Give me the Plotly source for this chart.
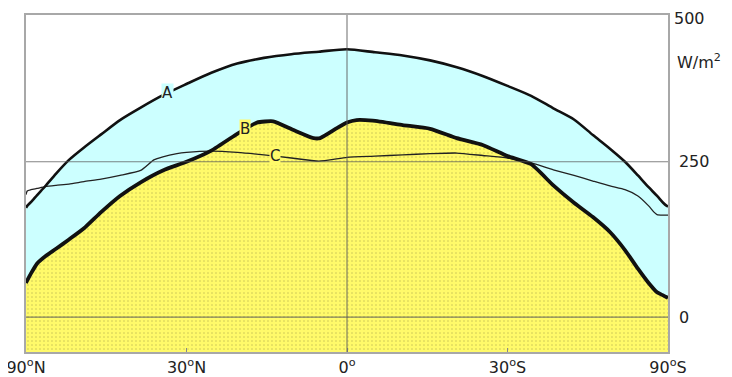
import numpy as np
import plotly.graph_objects as go

# ---------------- data ----------------
# Curve A: incoming solar radiation at top of atmosphere (W/m^2)
A_LAT = [90, 85, 80, 75, 70, 65, 60, 55, 50, 45, 40, 35, 30, 25, 20, 15, 10, 5, 0,
         -5, -10, -15, -20, -25, -30, -35, -40, -45, -50, -55, -60, -65, -70, -75, -80, -85, -90]
A_VAL = [176, 179, 185, 196, 211, 231, 253, 273, 294, 317, 337, 357, 375, 393, 408, 417, 423, 427, 431,
         426, 421, 413, 402, 388, 372, 356, 336, 318, 293, 271, 250, 228, 209, 195, 184, 179, 178]

# Curve B: absorbed solar radiation
B_LAT = [90, 85, 80, 75, 70, 65, 60, 55, 50, 45, 40, 35, 30, 25, 20, 18.8, 16.3, 13.3, 9.6, 6, 4.8,
         1.8, 0, -1.7, -4.6, -10, -15, -20, -25, -30, -35, -40, -45, -50, -55, -60, -65, -70, -75,
         -80, -85, -90]
B_VAL = [55, 59, 70, 86, 98, 110, 125, 143, 169, 195, 217, 236, 250, 268, 295, 301, 313, 315, 301, 288, 288,
         304, 313, 317, 316, 309, 303, 288, 277, 259, 246, 212, 184, 161, 137, 108, 78, 55, 40,
         35, 32, 31]

# Curve C: outgoing longwave radiation
C_LAT = [90, 85, 80, 75, 70, 65, 60, 55, 50, 45, 40, 37, 35, 32, 30, 25, 20, 15, 10, 5, 0,
         -5, -10, -15, -20, -25, -30, -35, -40, -45, -50, -55, -60, -65, -70, -73, -75, -80, -85, -90]
C_VAL = [197, 203, 205, 207, 210, 212, 214, 218, 222, 228, 236, 253, 258, 263, 265, 267, 265, 261, 256, 251, 257,
         259, 261, 263, 264, 260, 256, 248, 237, 228, 219, 211, 205, 195, 179, 169, 165, 164, 164, 164]

# axis ticks
X_TICK_LAT = [90, 30, 0, -30, -90]
X_TICK_TEXT = ["90<sup>o</sup>N", "30<sup>o</sup>N", "0<sup>o</sup>", "30<sup>o</sup>S", "90<sup>o</sup>S"]
Y_TICK_VALS = [0, 250]
Y_TICK_TEXT = ["0", "250"]
Y_TOP_LABEL = "500"
Y_RANGE = [-56, 486]

# curve labels: (text, latitude, series)
LABELS = [("A", 34.0, "A"), ("B", 18.5, "B"), ("C", 13.0, "C")]

# ---------------- helpers ----------------
def sx(lat):
    """Area-weighted (sine of latitude) horizontal scale."""
    return np.sin(np.radians(np.asarray(lat, dtype=float)))

series = {"A": (A_LAT, A_VAL), "B": (B_LAT, B_VAL), "C": (C_LAT, C_VAL)}

FONT = "DejaVu Sans"
CYAN = "#CCFFFF"
YELLOW = "#FFFA6A"
INK = "#111111"

fig = go.Figure()

# baseline at bottom of the plotting range (for stacking the fills)
fig.add_trace(go.Scatter(x=sx([90, -90]), y=[Y_RANGE[0], Y_RANGE[0]], mode="lines",
                         line=dict(width=0), hoverinfo="skip", showlegend=False))
# yellow dotted area below B
fig.add_trace(go.Scatter(x=sx(B_LAT), y=B_VAL, mode="lines", fill="tonexty",
                         fillcolor=YELLOW,
                         fillpattern=dict(shape=".", bgcolor=YELLOW, fgcolor="#8f8a40",
                                          size=4, solidity=0.12),
                         line=dict(width=0, shape="spline", smoothing=0.5),
                         hoverinfo="skip", showlegend=False))
# cyan area between B and A
fig.add_trace(go.Scatter(x=sx(A_LAT), y=A_VAL, mode="lines", fill="tonexty",
                         fillcolor=CYAN,
                         line=dict(width=0, shape="spline", smoothing=0.7),
                         hoverinfo="skip", showlegend=False))

# curve lines
fig.add_trace(go.Scatter(x=sx(C_LAT), y=C_VAL, mode="lines",
                         line=dict(color="#222222", width=1.3, shape="spline", smoothing=0.5),
                         showlegend=False))
fig.add_trace(go.Scatter(x=sx(A_LAT), y=A_VAL, mode="lines",
                         line=dict(color=INK, width=2.6, shape="spline", smoothing=0.7),
                         showlegend=False))
fig.add_trace(go.Scatter(x=sx(B_LAT), y=B_VAL, mode="lines",
                         line=dict(color=INK, width=3.8, shape="spline", smoothing=0.5),
                         showlegend=False))

# grid lines drawn above the fills
shapes = []
for v in Y_TICK_VALS:
    shapes.append(dict(type="line", xref="paper", x0=0, x1=1, yref="y", y0=v, y1=v,
                       line=dict(color="rgba(90,90,90,0.75)", width=1.2), layer="above"))
shapes.append(dict(type="line", xref="x", x0=0, x1=0, yref="paper", y0=0, y1=1,
                   line=dict(color="rgba(90,90,90,0.75)", width=1.2), layer="above"))

# curve labels
annotations = []
label_bg = {"A": CYAN, "B": YELLOW, "C": YELLOW}
for text, lat, key in LABELS:
    la, va = series[key]
    yv = float(np.interp(-lat, -np.asarray(la, float), np.asarray(va, float)))
    annotations.append(dict(x=float(sx(lat)), y=yv, xref="x", yref="y", text=text,
                            showarrow=False, font=dict(family=FONT, size=15, color="#222"),
                            bgcolor=label_bg[key], borderpad=0))

# top value label and unit
annotations.append(dict(xref="paper", yref="paper", x=1, y=1, xanchor="left", yanchor="middle",
                        xshift=4, yshift=-3, text=Y_TOP_LABEL, showarrow=False,
                        font=dict(family=FONT, size=16, color="#222")))
annotations.append(dict(xref="paper", yref="paper", x=1, y=1, xanchor="left", yanchor="middle",
                        xshift=7, yshift=-46, text="W/m<sup>2</sup>", showarrow=False,
                        font=dict(family=FONT, size=16, color="#222")))

# the page body adds an 8px offset, so the figure is sized to the remaining window
fig.update_layout(
    width=724, height=369,
    margin=dict(l=18, r=64, t=7, b=25, autoexpand=False),
    paper_bgcolor="white", plot_bgcolor="white",
    font=dict(family=FONT, size=16, color="#222"),
    shapes=shapes, annotations=annotations,
    xaxis=dict(range=[1, -1], tickvals=list(sx(X_TICK_LAT)), ticktext=X_TICK_TEXT,
               showgrid=False, zeroline=False, ticks="inside", ticklen=4, tickcolor="#888",
               showline=True, linecolor="#A8A8A8", linewidth=1.5, mirror=True, automargin=False,
               ticklabeloverflow="allow",
               tickfont=dict(family=FONT, size=16, color="#222")),
    yaxis=dict(range=Y_RANGE, side="right", tickvals=Y_TICK_VALS, ticktext=Y_TICK_TEXT,
               showgrid=False, zeroline=False, ticks="", ticklabelstandoff=6, automargin=False,
               ticklabeloverflow="allow",
               showline=True, linecolor="#A8A8A8", linewidth=1.5, mirror=True,
               tickfont=dict(family=FONT, size=16, color="#222")),
)

fig.write_html("out.html")
